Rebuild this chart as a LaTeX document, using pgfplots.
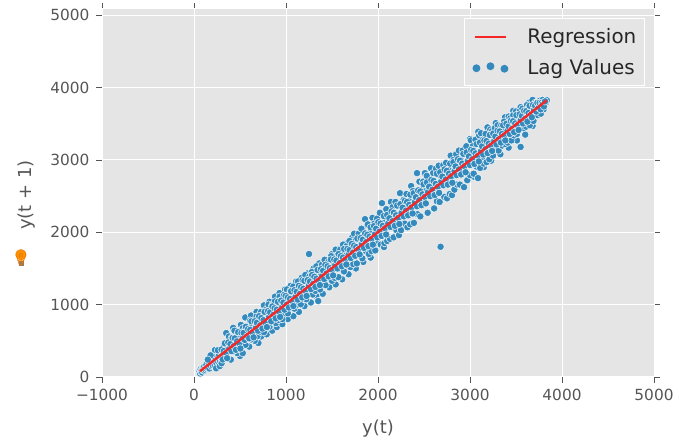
\documentclass[border=0pt]{standalone}
\usepackage{pgfplots}
\usepackage{fontspec}
\setmainfont{DejaVu Sans}
\newfontfamily\emojifont{Noto Emoji}
\pgfplotsset{compat=1.18}
\definecolor{ggbg}{HTML}{E5E5E5}
\definecolor{ggblue}{HTML}{348ABD}
\definecolor{gggray}{HTML}{555555}
\definecolor{ggred}{HTML}{F52828}
\pgfplotstableread{
x y
60 75
66 50
72 105
78 70
84 95
90 62
97 122
103 88
110 140
116 85
122 118
128 95
135 170
141 110
148 130
154 120
160 185
167 118
174 210
180 165
186 150
192 225
198 172
205 160
212 248
218 190
225 165
232 262
238 205
245 190
252 298
258 240
265 208
272 310
278 235
285 220
292 345
298 265
305 240
228 373
315 400
350 607
426 680
500 290
557 823
700 470
815 650
180 300
150 240
240 120
280 150
260 370
300 190
380 560
400 240
470 330
440 640
510 720
530 330
600 420
620 850
660 500
680 900
730 560
760 990
790 590
820 1040
850 640
880 1110
900 690
930 1160
960 730
990 1210
1020 800
1050 1260
1080 840
1110 1320
1140 900
1170 1370
1200 980
1230 1430
1270 1030
1300 1500
1330 1120
1360 1570
1400 1150
1430 1620
1470 1240
1500 1700
1540 1280
1570 1770
1610 1350
1640 1840
1680 1420
1720 1930
1760 1500
1800 2000
1840 1590
1880 2100
1920 1650
3000 3290
3040 2770
3090 3390
3150 2900
3190 3450
3230 2990
3280 3510
3330 3080
3380 3590
3420 3170
3470 3680
3510 3270
3550 3730
3600 3350
3640 3790
3680 3470
310 357
320 277
330 435
340 342
350 418
360 285
370 400
380 475
390 360
400 410
410 540
420 355
430 495
440 420
450 545
460 410
470 515
480 605
490 395
500 520
510 570
520 445
530 675
540 532
550 640
560 445
570 605
580 705
590 540
600 605
610 780
620 520
630 710
640 608
650 770
660 588
670 720
680 835
690 565
700 720
710 778
720 625
730 900
740 728
750 852
760 620
770 807
780 928
790 725
800 803
810 1000
820 695
830 905
840 800
850 990
860 760
870 920
880 1045
890 745
900 920
910 985
920 790
930 1110
940 925
950 1060
960 800
970 1010
980 1135
990 880
1000 1005
1010 1210
1020 880
1030 1115
1040 1000
1050 1190
1060 960
1070 1130
1080 1250
1090 945
1100 1120
1110 1180
1120 1000
1130 1320
1140 1120
1150 1260
1160 1005
1170 1210
1180 1340
1190 1080
1200 1205
1210 1410
1220 1075
1230 1320
1240 1200
1250 1700
1255 1390
1260 1160
1270 1330
1280 1450
1290 1140
1300 1320
1310 1390
1320 1190
1330 1530
1340 1320
1350 1050
1360 1460
1370 1210
1380 1410
1390 1550
1400 1280
1410 1410
1420 1620
1430 1270
1440 1520
1450 1400
1460 1590
1470 1360
1480 1530
1490 1670
1500 1330
1510 1530
1520 1600
1530 1370
1540 1760
1550 1540
1560 1680
1570 1380
1580 1610
1590 1760
1600 1490
1610 1610
1620 1830
1630 1460
1640 1730
1650 1610
1660 1810
1670 1540
1680 1730
1690 1880
1700 1520
1710 1730
1720 1800
1730 1560
1740 1980
1750 1750
1760 1900
1770 1570
1780 1810
1790 1980
1800 1680
1810 1820
1820 2050
1830 1640
1840 1950
1850 1810
1859 2182
1870 1740
1880 1940
1890 2110
1900 1700
1910 1930
1920 2000
1930 1740
1940 2200
1950 1950
1960 2120
1970 1750
1980 2010
1990 2190
2000 1850
2010 2020
2020 2270
2030 1830
2043 2403
2050 2020
2065 1796
2070 1850
2080 2150
2090 2320
2100 1880
2110 2130
2120 2200
2130 1910
2140 2420
2150 2160
2160 2350
2170 1930
2180 2210
2190 2420
2200 2030
2210 2230
2228 1961
2239 2541
2250 2030
2260 2340
2270 2230
2280 2450
2290 2120
2300 2340
2310 2530
2320 2070
2330 2350
2340 2430
2350 2110
2360 2640
2370 2380
2380 2570
2390 2130
2400 2420
2424 2818
2430 2250
2440 2440
2450 2700
2460 2220
2470 2590
2480 2440
2490 2700
2510 2818
2520 2570
2530 2780
2540 2270
2550 2570
2560 2680
2576 2886
2590 2620
2600 2820
2610 2330
2620 2640
2630 2880
2640 2430
2650 2660
2660 2920
2670 2420
2680 1800
2690 2760
2700 2650
2710 2930
2720 2490
2730 2760
2740 2960
2750 2470
2760 2780
2770 2860
2780 2530
2790 3060
2804 2514
2810 2780
2820 3000
2830 2590
2840 2850
2850 3080
2860 2660
2870 2880
2880 3130
2890 2660
2900 3000
2910 2890
2920 3130
2935 2624
2950 2960
2960 3190
2970 2720
2980 3000
2990 3060
3000 2790
3010 3270
3020 3020
3030 3190
3040 2810
3050 3070
3060 3280
3070 2910
3087 2749
3100 3340
3110 2890
3120 3370
3130 3020
3140 3280
3150 2950
3160 3200
3170 3360
3180 2970
3190 3190
3200 3260
3210 3010
3220 3420
3230 3240
3240 3400
3250 3060
3260 3290
3270 3440
3280 3150
3290 3300
3300 3480
3310 3130
3320 3400
3330 3290
3340 3480
3350 3200
3360 3400
3370 3530
3380 3220
3390 3420
3400 3480
3410 3240
3420 3600
3430 3450
3440 3580
3450 3270
3460 3490
3470 3620
3480 3340
3490 3510
3500 3670
3510 3360
3520 3600
3530 3500
3540 3670
3550 3180
3560 3600
3570 3710
3580 3440
3590 3620
3600 3680
3610 3460
3620 3760
3630 3640
3640 3730
3650 3480
3660 3680
3670 3740
3680 3830
3690 3540
3700 3730
3710 3790
3720 3780
3730 3620
3740 3800
3750 3680
3760 3820
3770 3640
3780 3760
3790 3830
3800 3700
3810 3790
3830 3800
3835 3825
300 380
312 242
324 359
336 466
348 328
360 260
372 477
384 394
396 456
408 358
420 540
432 427
444 534
456 376
468 493
480 620
492 462
504 394
516 611
528 528
540 610
552 512
564 694
576 561
588 663
600 535
612 652
624 770
636 616
648 548
660 770
672 680
684 750
696 640
708 840
720 715
732 815
744 670
756 785
768 900
780 745
792 690
804 910
816 825
828 895
840 770
852 975
864 860
876 950
888 810
900 930
912 1040
924 900
936 830
948 1055
960 970
972 1030
984 930
996 1120
1008 1000
1020 1100
1032 960
1044 1080
1056 1185
1068 1045
1080 980
1092 1200
1104 1110
1116 1180
1128 1070
1140 1260
1152 1150
1164 1240
1176 1100
1188 1220
1200 1330
1212 1190
1224 1120
1236 1340
1248 1260
1260 1320
1272 1215
1284 1410
1296 1290
1308 1385
1320 1245
1332 1360
1344 1480
1356 1330
1368 1270
1380 1490
1392 1400
1404 1470
1416 1355
1428 1550
1440 1430
1452 1530
1464 1390
1476 1505
1488 1625
1500 1480
1512 1405
1524 1625
1536 1550
1548 1610
1560 1500
1572 1700
1584 1575
1596 1670
1608 1530
1620 1650
1632 1770
1644 1620
1656 1555
1668 1770
1680 1690
1692 1755
1704 1645
1716 1840
1728 1720
1740 1815
1752 1675
1764 1795
1776 1915
1788 1765
1800 1695
1812 1920
1824 1835
1836 1900
1848 1785
1860 1985
1872 1865
1884 1965
1896 1810
1908 1940
1920 2070
1932 1910
1944 1830
1956 2085
1968 1975
1980 2050
1992 1930
2004 2140
2016 2010
2028 2120
2040 1950
2052 2090
2064 2225
2076 2055
2088 1970
2100 2240
2112 2125
2124 2195
2136 2075
2148 2290
2160 2155
2172 2270
2184 2090
2196 2235
2208 2370
2220 2200
2232 2115
2244 2390
2256 2270
2268 2340
2280 2220
2292 2435
2304 2300
2316 2420
2328 2235
2340 2380
2352 2520
2364 2345
2376 2260
2388 2540
2400 2415
2412 2485
2424 2360
2436 2580
2448 2445
2460 2565
2472 2375
2484 2525
2496 2665
2508 2490
2520 2400
2532 2690
2544 2560
2556 2630
2568 2500
2580 2725
2592 2590
2604 2710
2616 2515
2628 2670
2640 2810
2652 2630
2664 2545
2676 2830
2688 2705
2700 2770
2712 2650
2724 2870
2736 2730
2748 2850
2760 2660
2772 2810
2784 2950
2796 2775
2808 2685
2820 2970
2832 2845
2844 2910
2856 2790
2868 3010
2880 2870
2892 2990
2904 2800
2916 2950
2928 3085
2940 2915
2952 2830
2964 3105
2976 2985
2988 3050
3000 2930
3012 3140
3024 3010
3036 3125
3048 2945
3060 3090
3072 3220
3084 3055
3096 2980
3108 3240
3120 3125
3132 3190
3144 3075
3156 3270
3168 3150
3180 3260
3192 3095
3204 3225
3216 3345
3228 3195
3240 3125
3252 3365
3264 3265
3276 3325
3288 3215
3300 3405
3312 3285
3324 3395
3336 3240
3348 3360
3360 3480
3372 3335
3384 3270
3396 3500
3408 3405
3420 3465
3432 3360
3444 3540
3456 3430
3468 3535
3480 3385
3492 3505
3504 3620
3516 3480
3528 3415
3540 3630
3552 3550
3564 3610
3576 3505
3588 3680
3600 3570
3612 3675
3624 3530
3636 3650
3648 3750
3660 3620
3672 3590
3684 3760
3696 3690
3708 3750
3720 3670
3732 3790
3744 3720
3756 3790
3768 3700
3780 3790
3792 3770
3804 3740
3816 3810
}\lagtable
\pgfplotstableread{
x y
65 80
3835 3825
}\regtable
\begin{document}
\begin{tikzpicture}[x=1bp,y=1bp]
\path[use as bounding box] (0,0) rectangle (688,439);
\begin{axis}[
  clip mode=individual,
  at={(102bp,62bp)}, anchor=south west,
  scale only axis, width=552bp, height=368bp,
  xmin=-1000, xmax=5000, ymin=0, ymax=5087,
  xtick={-1000,0,1000,2000,3000,4000,5000},
  xticklabels={−1000,0,1000,2000,3000,4000,5000},
  ytick={0,1000,2000,3000,4000,5000},
  yticklabels={0,1000,2000,3000,4000,5000},
  scaled ticks=false,
  axis background/.style={fill=ggbg},
  axis line style={white,line width=1bp},
  grid=major,
  grid style={white,line width=1bp},
  tick align=outside,
  tickpos=both,
  major tick length=6bp,
  tick style={gggray,line width=0.7bp},
  tick label style={gggray,font=\fontsize{15.4}{18}\selectfont},
  x tick label style={yshift=-3bp},
  y tick label style={xshift=-3bp},
  xlabel={y(t)},
  xlabel style={gggray,font=\fontsize{18}{21}\selectfont,at={(axis description cs:0.5,0)},anchor=center,yshift=-51.5bp},
  legend style={at={(axis cs:4900,4965)},anchor=north east,fill=ggbg,draw=white,line width=1bp,
    font=\fontsize{20}{24}\selectfont,text=black!85,row sep=10bp,inner xsep=6bp,inner ysep=8bp},
  legend cell align=left,
]
\addplot[only marks,mark=*,mark size=3.7bp,
  mark options={fill=ggblue,draw=white,line width=0.6bp,draw opacity=0.85},forget plot] table[x=x,y=y] {\lagtable};
\addplot[draw=ggred,line width=2.4bp,
  legend image code/.code={\path (0bp,0bp); \draw[draw=ggred,solid,line width=2.2bp] (4bp,0bp) -- (35bp,0bp);}] table[x=x,y=y] {\regtable};
\addlegendentry{\hspace{17bp}Regression}
\addlegendimage{legend image code/.code={
  \fill[ggblue] (5bp,-1bp) circle (3.4bp);
  \fill[ggblue] (19bp,1bp) circle (3.4bp);
  \fill[ggblue] (33bp,-1.5bp) circle (3.4bp);}}
\addlegendentry{\hspace{17bp}Lag Values}
\end{axis}
\node[gggray,rotate=90,font=\fontsize{18}{21}\selectfont] at (27,244) {y(t + 1)};
\fill[orange!85!yellow] (21,184) circle (5.5);
\fill[gray] (18.5,172.5) rectangle (23.5,178);
\node[orange!90!black,font=\emojifont\fontsize{16}{18}\selectfont] at (21,181) {💡};
\end{tikzpicture}
\end{document}
